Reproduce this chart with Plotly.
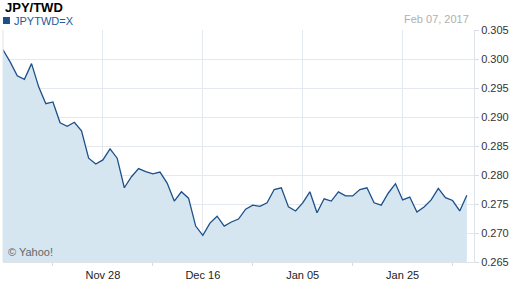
import plotly.graph_objects as go

# Trading-day index (Nov 08 2016 .. Feb 07 2017) and JPY/TWD close values
day_index = list(range(66))
rates = [
    0.3016, 0.2995, 0.2971, 0.2965, 0.2992, 0.2952, 0.2923, 0.2926, 0.2890, 0.2884,
    0.2891, 0.2876, 0.2829, 0.2819, 0.2826, 0.2845, 0.2829, 0.2778, 0.2797, 0.2811,
    0.2806, 0.2802, 0.2805, 0.2786, 0.2755, 0.2771, 0.2760, 0.2712, 0.2696, 0.2717,
    0.2729, 0.2712, 0.2719, 0.2724, 0.2741, 0.2748, 0.2746, 0.2752, 0.2775, 0.2778,
    0.2745, 0.2738, 0.2752, 0.2771, 0.2735, 0.2759, 0.2755, 0.2771, 0.2764, 0.2764,
    0.2775, 0.2778, 0.2752, 0.2748, 0.2769, 0.2785, 0.2757, 0.2762, 0.2736, 0.2745,
    0.2757, 0.2777, 0.2761, 0.2756, 0.2738, 0.2765,
]
tick_positions = [14, 28, 42, 56]
tick_labels = ["Nov 28", "Dec 16", "Jan 05", "Jan 25"]
y_ticks = [0.265, 0.270, 0.275, 0.280, 0.285, 0.290, 0.295, 0.300, 0.305]
title_text = "JPY/TWD"
series_name = "JPYTWD=X"
date_text = "Feb 07, 2017"
credit_text = "© Yahoo!"

FONT = "Liberation Sans, Arial, sans-serif"
LINE = "#1b5088"
FILL = "#d6e6f1"
GRID = "#e4e9f0"

fig = go.Figure()
fig.add_trace(go.Scatter(
    x=day_index, y=rates, mode="lines",
    line=dict(color=LINE, width=1.3),
    fill="tozeroy", fillcolor=FILL,
    showlegend=False, hoverinfo="skip",
))

fig.update_layout(
    width=512, height=288,
    margin=dict(l=3, r=35, t=30, b=26),
    paper_bgcolor="white", plot_bgcolor="white",
    font=dict(family=FONT, size=11, color="#333333"),
    xaxis=dict(
        range=[0, 66], tickmode="array", tickvals=tick_positions, ticktext=tick_labels,
        showgrid=True, gridcolor=GRID, gridwidth=1,
        ticks="", showline=True, linecolor="#dfe4ea", linewidth=1, mirror=False,
        ticklabelstandoff=3,
        tickfont=dict(family=FONT, size=11, color="#222222"),
        minor=dict(tickvals=[7, 21, 35, 49, 63], ticks="outside", ticklen=3,
                   tickcolor="#d8dde3", showgrid=False),
        zeroline=False, fixedrange=True,
    ),
    yaxis=dict(
        range=[0.265, 0.305], side="right", tickmode="array", tickvals=y_ticks,
        ticktext=[f"{v:.3f}" for v in y_ticks],
        showgrid=True, gridcolor=GRID, gridwidth=1,
        ticks="outside", ticklen=4, tickcolor="#d8dde3",
        showline=True, linecolor="#dfe4ea", linewidth=1,
        tickfont=dict(family=FONT, size=11, color="#333333"),
        zeroline=False, fixedrange=True,
    ),
    shapes=[
        dict(type="line", xref="paper", yref="paper", x0=0, x1=0, y0=0, y1=1,
             line=dict(color="#dfe4ea", width=1)),
        dict(type="rect", xref="paper", yref="paper",
             x0=0, x1=(10 - 3) / 474, y0=(262 - 24) / 232, y1=(262 - 17) / 232,
             fillcolor=LINE, line=dict(width=0)),
    ],
    annotations=[
        dict(text=f"<b>{title_text}</b>", xref="paper", yref="paper",
             x=0, y=(262 - 8) / 232, xanchor="left", yanchor="middle",
             showarrow=False, font=dict(family=FONT, size=13, color="#000000")),
        dict(text=series_name, xref="paper", yref="paper",
             x=(12 - 3) / 474, y=(262 - 20.5) / 232, xanchor="left", yanchor="middle",
             showarrow=False, font=dict(family=FONT, size=11, color="#1d5a9a")),
        dict(text=date_text, xref="paper", yref="paper",
             x=(474 - 3) / 474, y=(262 - 19) / 232, xanchor="right", yanchor="middle",
             showarrow=False, font=dict(family=FONT, size=11, color="#b0b0b0")),
        dict(text=credit_text, xref="paper", yref="paper",
             x=(6 - 3) / 474, y=(262 - 252) / 232, xanchor="left", yanchor="middle",
             showarrow=False, font=dict(family=FONT, size=11, color="#666666")),
    ],
)

fig.write_html("out.html", config={"displayModeBar": False})
